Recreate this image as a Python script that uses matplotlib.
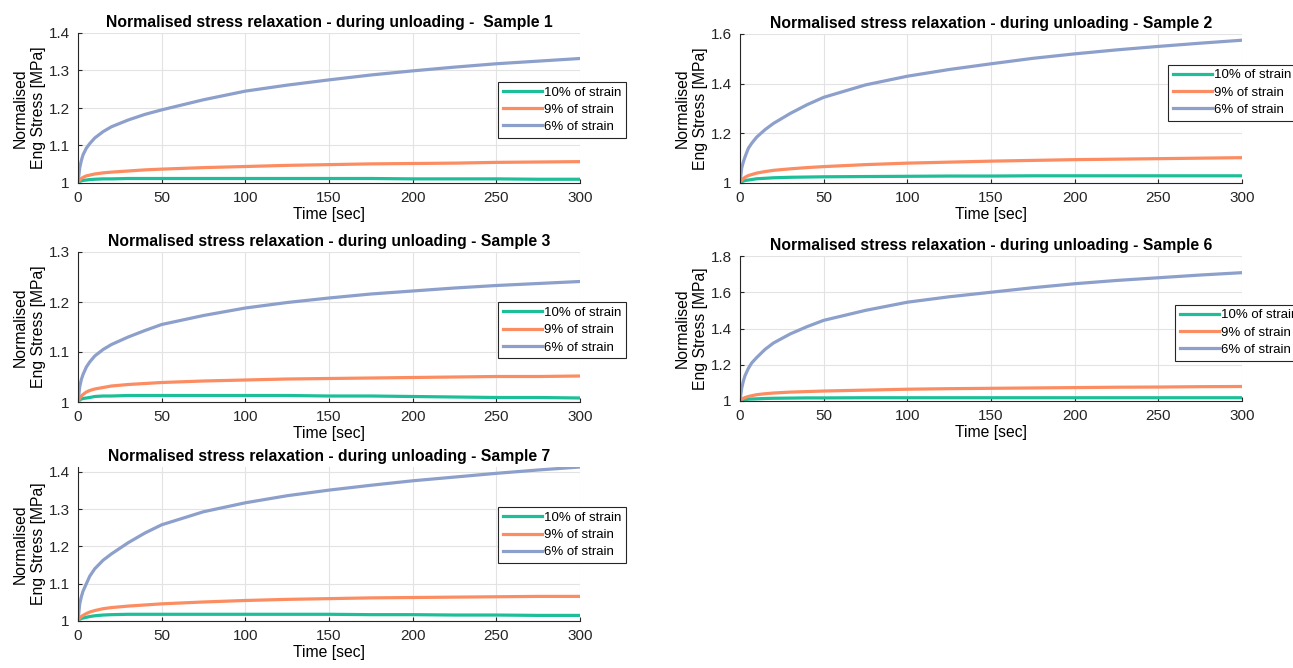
import matplotlib.pyplot as plt

plt.rcParams['font.family'] = ['Liberation Sans', 'DejaVu Sans']

# time points [sec]
t = [0, 1, 2, 3, 5, 7, 10, 15, 20, 30, 40, 50, 75, 100, 125, 150, 175, 200, 225, 250, 275, 300]

labels = ['10% of strain', '9% of strain', '6% of strain']
colors = ['#1dbf98', '#fc8d62', '#8da0cb']

# sample 1
s1_10 = [1.0, 1.004, 1.006, 1.007, 1.008, 1.009, 1.010, 1.011, 1.011, 1.012, 1.012, 1.012, 1.012, 1.012, 1.012, 1.012, 1.012, 1.011, 1.011, 1.011, 1.010, 1.010]
s1_9 = [1.0, 1.008, 1.012, 1.015, 1.019, 1.021, 1.024, 1.027, 1.029, 1.032, 1.035, 1.037, 1.041, 1.044, 1.047, 1.049, 1.051, 1.052, 1.053, 1.055, 1.056, 1.057]
s1_6 = [1.0, 1.04, 1.06, 1.075, 1.093, 1.105, 1.12, 1.137, 1.15, 1.168, 1.183, 1.195, 1.222, 1.245, 1.261, 1.275, 1.288, 1.299, 1.309, 1.318, 1.325, 1.332]

# sample 2
s2_10 = [1.0, 1.005, 1.008, 1.010, 1.012, 1.014, 1.017, 1.019, 1.021, 1.023, 1.024, 1.025, 1.026, 1.027, 1.028, 1.028, 1.029, 1.029, 1.029, 1.029, 1.029, 1.029]
s2_9 = [1.0, 1.012, 1.018, 1.023, 1.030, 1.034, 1.040, 1.046, 1.051, 1.057, 1.062, 1.066, 1.074, 1.080, 1.084, 1.088, 1.091, 1.094, 1.096, 1.098, 1.100, 1.102]
s2_6 = [1.0, 1.06, 1.085, 1.105, 1.14, 1.16, 1.185, 1.215, 1.24, 1.28, 1.315, 1.345, 1.395, 1.43, 1.457, 1.48, 1.502, 1.52, 1.536, 1.55, 1.563, 1.575]

# sample 3
s3_10 = [1.0, 1.004, 1.006, 1.007, 1.008, 1.009, 1.011, 1.012, 1.012, 1.013, 1.013, 1.013, 1.013, 1.013, 1.013, 1.012, 1.012, 1.011, 1.010, 1.009, 1.009, 1.008]
s3_9 = [1.0, 1.008, 1.012, 1.015, 1.020, 1.023, 1.026, 1.029, 1.032, 1.035, 1.037, 1.039, 1.042, 1.044, 1.046, 1.047, 1.048, 1.049, 1.050, 1.051, 1.051, 1.052]
s3_6 = [1.0, 1.03, 1.045, 1.055, 1.07, 1.08, 1.092, 1.105, 1.115, 1.13, 1.143, 1.155, 1.173, 1.188, 1.199, 1.208, 1.216, 1.222, 1.228, 1.233, 1.237, 1.241]

# sample 6
s6_10 = [1.0, 1.005, 1.007, 1.008, 1.010, 1.011, 1.012, 1.014, 1.015, 1.016, 1.017, 1.017, 1.018, 1.018, 1.018, 1.018, 1.018, 1.018, 1.018, 1.018, 1.018, 1.018]
s6_9 = [1.0, 1.010, 1.015, 1.019, 1.025, 1.029, 1.035, 1.040, 1.044, 1.049, 1.052, 1.055, 1.060, 1.065, 1.068, 1.070, 1.072, 1.074, 1.076, 1.077, 1.079, 1.080]
s6_6 = [1.0, 1.07, 1.11, 1.14, 1.18, 1.21, 1.24, 1.285, 1.32, 1.37, 1.41, 1.445, 1.5, 1.545, 1.575, 1.6, 1.625, 1.647, 1.665, 1.68, 1.695, 1.708]

# sample 7
s7_10 = [1.0, 1.005, 1.007, 1.008, 1.010, 1.012, 1.014, 1.016, 1.017, 1.018, 1.018, 1.018, 1.018, 1.018, 1.018, 1.018, 1.017, 1.017, 1.016, 1.016, 1.015, 1.015]
s7_9 = [1.0, 1.008, 1.012, 1.015, 1.020, 1.024, 1.028, 1.033, 1.036, 1.040, 1.043, 1.046, 1.051, 1.055, 1.058, 1.060, 1.062, 1.063, 1.064, 1.065, 1.066, 1.066]
s7_6 = [1.0, 1.045, 1.065, 1.08, 1.10, 1.12, 1.14, 1.163, 1.18, 1.21, 1.236, 1.258, 1.293, 1.317, 1.336, 1.351, 1.364, 1.376, 1.386, 1.396, 1.405, 1.413]

samples = [
    ('Normalised stress relaxation - during unloading -  Sample 1', [s1_10, s1_9, s1_6], 1.4, [1, 1.1, 1.2, 1.3, 1.4], ['1', '1.1', '1.2', '1.3', '1.4']),
    ('Normalised stress relaxation - during unloading - Sample 2', [s2_10, s2_9, s2_6], 1.6, [1, 1.2, 1.4, 1.6], ['1', '1.2', '1.4', '1.6']),
    ('Normalised stress relaxation - during unloading - Sample 3', [s3_10, s3_9, s3_6], 1.3, [1, 1.1, 1.2, 1.3], ['1', '1.1', '1.2', '1.3']),
    ('Normalised stress relaxation - during unloading - Sample 6', [s6_10, s6_9, s6_6], 1.8, [1, 1.2, 1.4, 1.6, 1.8], ['1', '1.2', '1.4', '1.6', '1.8']),
    ('Normalised stress relaxation - during unloading - Sample 7', [s7_10, s7_9, s7_6], 1.413, [1, 1.1, 1.2, 1.3, 1.4], ['1', '1.1', '1.2', '1.3', '1.4']),
]

W, H = 1293, 668
# axes boxes in pixels: left, top, right, bottom
boxes = [(78, 33, 580, 183), (740, 34, 1242, 183), (78, 252, 580, 402), (740, 256, 1242, 401), (78, 467, 580, 621)]
leg_anchor = [(0.837, 0.675), (0.853, 0.795), (0.837, 0.665), (0.867, 0.665), (0.837, 0.74)]

fig = plt.figure(figsize=(W / 100, H / 100), dpi=100)

for i, (title, series, ytop, yt, ytl) in enumerate(samples):
    l, tp, r, b = boxes[i]
    ax = fig.add_axes([l / W, 1 - b / H, (r - l) / W, (b - tp) / H])
    for y, lab, c in zip(series, labels, colors):
        ax.plot(t, y, color=c, lw=2.3, label=lab)
    ax.set_xlim(0, 300)
    ax.set_ylim(1, ytop)
    ax.set_xticks([0, 50, 100, 150, 200, 250, 300])
    ax.set_yticks(yt)
    ax.set_yticklabels(ytl)
    ax.grid(True, color='#e3e3e3', lw=0.8)
    ax.set_axisbelow(True)
    for s in ['top', 'right']:
        ax.spines[s].set_visible(False)
    for s in ['left', 'bottom']:
        ax.spines[s].set_color('#262626')
        ax.spines[s].set_linewidth(0.8)
    ax.tick_params(direction='in', length=3, labelsize=11, colors='#262626', pad=6)
    ax.set_title(title, fontsize=11.3, fontweight='bold', pad=4)
    ax.set_xlabel('Time [sec]', fontsize=11.3, labelpad=1)
    ax.set_ylabel('Normalised\nEng Stress [MPa]', fontsize=11.3, labelpad=2, linespacing=1.25)
    leg = ax.legend(loc='upper left', bbox_to_anchor=leg_anchor[i], borderaxespad=0, fontsize=9.5,
                    handlelength=3.0, handletextpad=0.15, labelspacing=0.38, fancybox=False,
                    framealpha=1, edgecolor='#262626', borderpad=0.35)
    leg.get_frame().set_linewidth(0.8)

fig.savefig('out.png', dpi=100)
